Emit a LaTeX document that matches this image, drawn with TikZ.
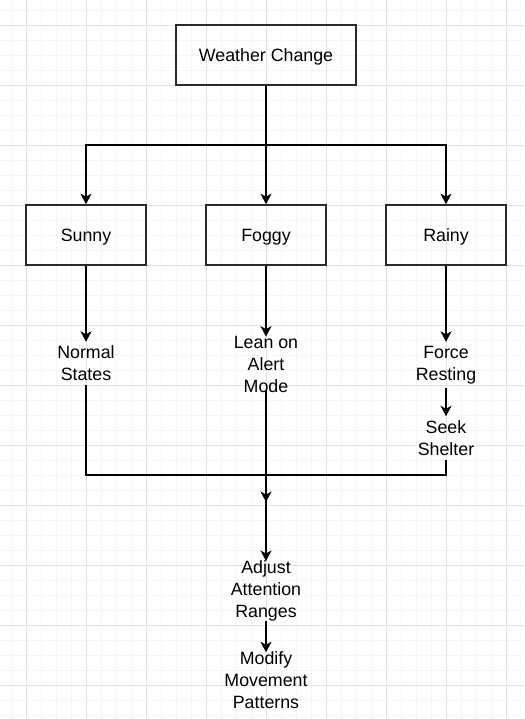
\documentclass[tikz,border=0pt]{standalone}
\usepackage{fontspec}
\setmainfont{Liberation Sans}
\usetikzlibrary{arrows.meta}
\definecolor{grilleclaire}{HTML}{F5F5F5}
\definecolor{grillefoncee}{HTML}{E2E2E2}
\definecolor{bord}{HTML}{2B2B2B}
\begin{document}
\begin{tikzpicture}[x=1pt,y=-1pt,font=\fontsize{17.8}{22}\selectfont]
	% Styles
	\tikzstyle{fleche}=[->,>={Stealth[length=10.5pt,width=11pt,inset=3pt]},line width=1.6pt]
	\tikzstyle{trait}=[line width=1.6pt]
	\tikzstyle{boite}=[draw=bord,line width=1.6pt,minimum height=60pt,inner sep=0pt,text depth=0pt]
	\tikzstyle{texte}=[align=center,inner sep=4pt]
	% Dimensions
	\def\ColonneA{86}
	\def\ColonneB{266}
	\def\ColonneC{446}
	\def\NiveauA{55}
	\def\NiveauB{235}
	\def\NiveauJonction{145}
	\def\NiveauFusion{475}
	% Fond et grille
	\useasboundingbox (0,0) rectangle (524,719);
	\fill[white] (0,0) rectangle (524,719);
	\foreach \x in {11,26,...,521} \draw[grilleclaire,line width=0.9pt] (\x,0) -- (\x,719);
	\foreach \y in {10,25,...,715} \draw[grilleclaire,line width=0.9pt] (0,\y) -- (524,\y);
	\foreach \x in {26,86,...,506} \draw[grillefoncee,line width=0.9pt] (\x,0) -- (\x,719);
	\foreach \y in {25,85,...,685} \draw[grillefoncee,line width=0.9pt] (0,\y) -- (524,\y);
	% Noeuds
	\node[boite,minimum width=180pt] (meteo) at (\ColonneB,\NiveauA) {Weather Change};
	\node[boite,minimum width=120pt] (soleil) at (\ColonneA,\NiveauB) {Sunny};
	\node[boite,minimum width=120pt] (brouillard) at (\ColonneB,\NiveauB) {Foggy};
	\node[boite,minimum width=120pt] (pluie) at (\ColonneC,\NiveauB) {Rainy};
	%
	\node[texte] (normal) at (\ColonneA,363.5) {Normal\\States};
	\node[texte] (alerte) at (\ColonneB,364.5) {Lean on\\Alert\\Mode};
	\node[texte] (repos) at (\ColonneC,365) {Force\\Resting};
	\node[texte] (abri) at (\ColonneC,438) {Seek\\Shelter};
	\node[texte] (attention) at (\ColonneB,590.5) {Adjust\\Attention\\Ranges};
	\node[texte] (mouvement) at (\ColonneB,680) {Modify\\Movement\\Patterns};
	%
	\coordinate (jonction) at (\ColonneB,\NiveauJonction);
	\coordinate (fusion) at (\ColonneB,\NiveauFusion);
	\coordinate (pointe) at (\ColonneB,502);
	% Arcs
	\draw[fleche] (meteo.south) -- (brouillard.north);
	\draw[fleche] (jonction) -| (soleil.north);
	\draw[fleche] (jonction) -| (pluie.north);
	\draw[fleche] (soleil.south) -- (normal.north);
	\draw[fleche,shorten >=-4.5pt] (brouillard.south) -- (alerte.north);
	\draw[fleche] (pluie.south) -- (repos.north);
	\draw[fleche] (repos.south) -- (abri.north);
	\draw[trait] (normal.south) |- (fusion);
	\draw[trait] (abri.south) |- (fusion);
	\draw[fleche] (fusion) -- (pointe);
	\draw[fleche,shorten <=-6pt,shorten >=-5pt] (alerte.south) -- (attention.north);
	\draw[fleche,shorten <=-4pt,shorten >=-5pt] (attention.south) -- (mouvement.north);
\end{tikzpicture}
\end{document}
